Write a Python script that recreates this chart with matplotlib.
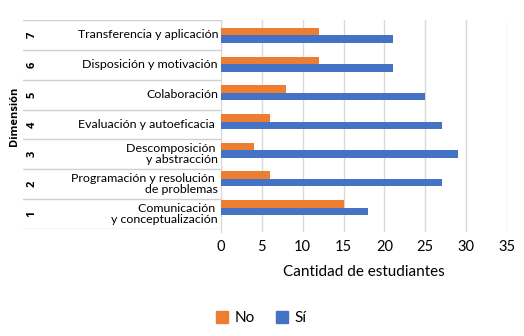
import matplotlib
matplotlib.use("Agg")
import matplotlib.pyplot as plt
from matplotlib.patches import Patch
import numpy as np

plt.rcParams['font.family'] = ['Lato', 'DejaVu Sans']

dimensions = ["1", "2", "3", "4", "5", "6", "7"]
labels = [
    "Comunicación \ny conceptualización",
    "Programación y resolución \nde problemas",
    "Descomposición \ny abstracción",
    "Evaluación y autoeficacia ",
    "Colaboración",
    "Disposición y motivación",
    "Transferencia y aplicación",
]
no_vals = [15, 6, 4, 6, 8, 12, 12]
si_vals = [18, 27, 29, 27, 25, 21, 21]
xticks = [0, 5, 10, 15, 20, 25, 30, 35]

orange = "#ED7D31"
blue = "#4472C4"
W, H = 524, 336
fig = plt.figure(figsize=(W / 100, H / 100), dpi=100)

def fx(px):
    return px / W

def fy(py):
    return 1 - py / H

# main axes
ax = fig.add_axes([fx(221), fy(232), fx(507) - fx(221), fy(20) - fy(232)])
y = np.arange(len(labels))
bh = 0.26
ax.barh(y + bh / 2, no_vals, height=bh, color=orange, zorder=3)
ax.barh(y - bh / 2, si_vals, height=bh, color=blue, zorder=3)
ax.set_ylim(-0.85, 6.54)
ax.set_xlim(0, 35)
ax.set_xticks(xticks)
ax.set_xticklabels([str(t) for t in xticks], fontsize=10.5)
ax.set_yticks([])
ax.grid(axis='x', color='#d9d9d9', linewidth=1, zorder=0)
for s in ['top', 'right', 'bottom']:
    ax.spines[s].set_visible(False)
ax.spines['left'].set_color('#d9d9d9')
ax.tick_params(axis='x', length=0, pad=6, colors='black')
ax.set_xlabel("Cantidad de estudiantes", fontsize=11, labelpad=8)

# left table
tab = fig.add_axes([fx(23), fy(229), fx(221) - fx(23), fy(20) - fy(229)])
tab.set_xlim(0, 1)
tab.set_ylim(0, len(labels))
tab.axis('off')
n = len(labels)
for b in range(n + 1):
    tab.axhline(b, color='#d0d0d0', linewidth=1)
xr = (218 - 23) / (221 - 23)
xn = (32 - 23) / (221 - 23)
for i, (d, lab) in enumerate(zip(dimensions, labels)):
    tab.text(xr, i + 0.5, lab, ha='right', va='center', fontsize=8.9,
             linespacing=1.0)
    tab.text(xn, i + 0.5, d, ha='center', va='center', fontsize=8,
             fontweight='bold', rotation=90,
             family=['Open Sans', 'DejaVu Sans'])

fig.text(fx(15), fy(116), "Dimensión", rotation=90, ha='center', va='center',
         fontsize=8, fontweight='bold', family=['Open Sans', 'DejaVu Sans'])

handles = [Patch(color=orange, label="No"), Patch(color=blue, label="Sí")]
fig.legend(handles=handles, loc='center', bbox_to_anchor=(fx(261), fy(318)),
           ncol=2, frameon=False, fontsize=11, handlelength=0.8,
           handleheight=0.8, handletextpad=0.4, columnspacing=1.4)

fig.savefig("out.png", dpi=100)
